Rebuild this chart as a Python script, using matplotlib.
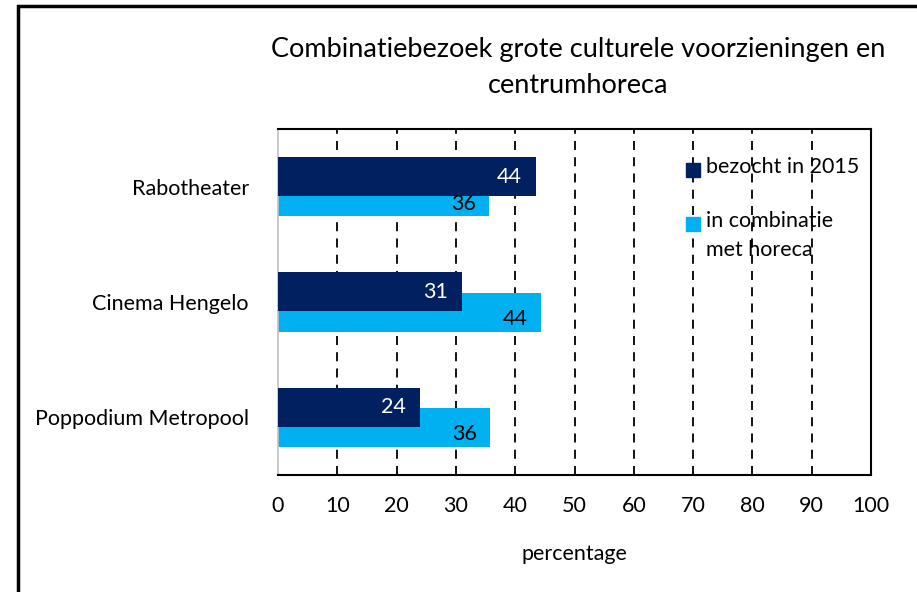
import numpy as np
import matplotlib.pyplot as plt
import matplotlib.transforms as mtransforms
from matplotlib.patches import Rectangle

plt.rcParams['font.family'] = ['Lato', 'DejaVu Sans']

# data
venues = ['Rabotheater', 'Cinema Hengelo', 'Poppodium Metropool']
visited_2015 = [43.5, 31.1, 24.0]
with_horeca = [35.6, 44.4, 35.7]
series_names = ['bezocht in 2015', 'in combinatie\nmet horeca']
xticks = list(range(0, 101, 10))

DARK = '#002060'
LIGHT = '#00B0F0'
FS = 15.5

fig = plt.figure(figsize=(9.17, 5.92), dpi=100)
ax = fig.add_axes([278/917, 1 - 475/592, 593/917, 346/592])

y = np.arange(len(venues))
h = 0.338
off = 0.087

# light bars behind, dark bars in front (they overlap)
b2 = ax.barh(y + off, with_horeca, height=h, color=LIGHT, zorder=2)
b1 = ax.barh(y - off, visited_2015, height=h, color=DARK, zorder=3)

for bar, v in zip(b1, visited_2015):
    ax.text(v - 2.4, bar.get_y() + bar.get_height()/2, '%.0f' % v,
            ha='right', va='center', color='white', fontsize=FS, zorder=5)
for bar, v in zip(b2, with_horeca):
    ax.text(v - 2.2, bar.get_y() + bar.get_height()/2 + 0.06, '%.0f' % v,
            ha='right', va='center', color='black', fontsize=FS, zorder=5)

ax.set_xlim(0, 100)
ax.set_ylim(-0.5, len(venues) - 0.5)
ax.invert_yaxis()
ax.set_yticks(y)
ax.set_yticklabels(venues, fontsize=FS)
ax.set_xticks(xticks)
ax.set_xticklabels([str(t) for t in xticks], fontsize=FS)
ax.tick_params(length=0)
ax.tick_params(axis='y', pad=21)
ax.tick_params(axis='x', pad=15)

for t in xticks[1:-1]:
    ax.axvline(t, color='black', lw=1.3, ls=(0, (5, 4)), zorder=1)

for s in ['top', 'right', 'bottom']:
    ax.spines[s].set_color('black')
    ax.spines[s].set_linewidth(1.5)
ax.spines['left'].set_color('#c0c0c0')
ax.spines['left'].set_linewidth(1.2)

ax.set_xlabel('percentage', fontsize=FS, labelpad=20)

# legend drawn by hand so the square sits on the first text line
trans = mtransforms.blended_transform_factory(ax.transData, ax.transAxes)
sq_w = 14 / 593 * 100
sq_h = 14 / 346
leg_x = (686 - 278) / 593 * 100
for ypix, col, name in [(170, DARK, series_names[0]), (224, LIGHT, series_names[1])]:
    ya = (475 - ypix) / 346
    ax.add_patch(Rectangle((leg_x, ya - sq_h/2), sq_w, sq_h, color=col,
                           transform=trans, zorder=4, clip_on=False))
    ax.text(leg_x + sq_w + 1.0, ya + 13 / 346, name, transform=trans,
            ha='left', va='top', fontsize=FS, linespacing=1.55, zorder=4)

fig.text(0.630, 1 - 50/592, 'Combinatiebezoek grote culturele voorzieningen en',
         ha='center', va='center', fontsize=19.5)
fig.text(0.630, 1 - 85/592, 'centrumhoreca', ha='center', va='center', fontsize=19.5)

# outer chart border (cut off at right and bottom)
fig.add_artist(Rectangle((18/917, -0.2), 1.0, 1.2 - 6/592,
                         transform=fig.transFigure, fill=False,
                         edgecolor='black', lw=2.5))

fig.savefig('out.png', dpi=100)
